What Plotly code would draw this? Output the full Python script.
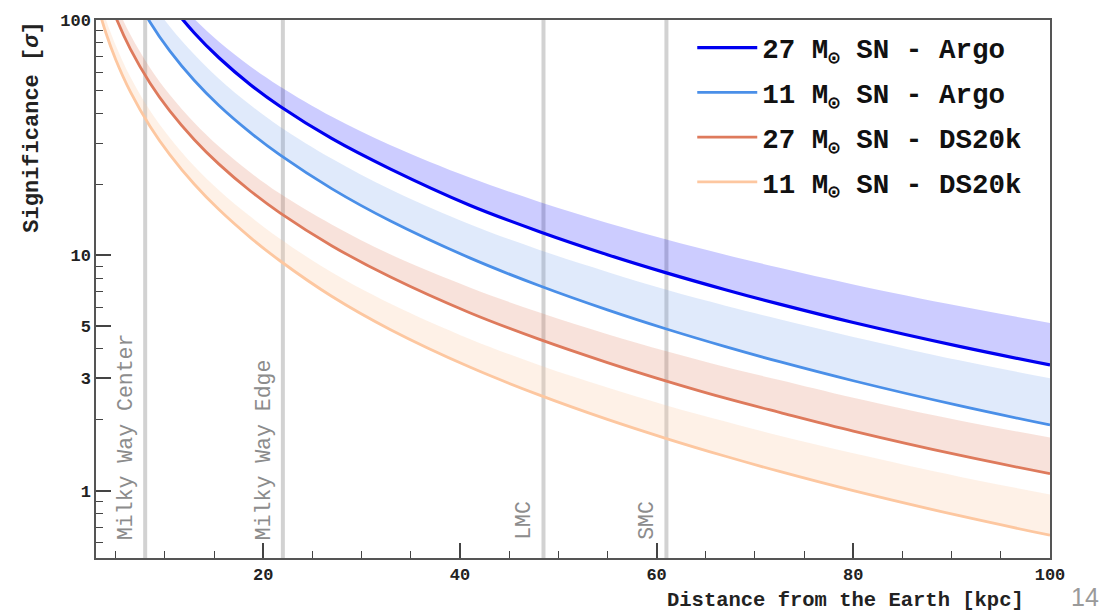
import plotly.graph_objects as go

# ---------------- data ----------------
distance = [3, 4, 5, 6.5, 8.5, 10.5, 13, 15.5, 18.7, 21.7, 27, 32.9, 41, 48.1,
            55, 61, 67, 72.5, 80, 90.9, 100]

argo27_low = [580, 408, 309, 221, 156, 117.8, 88.1, 69.1, 53.1, 43.0, 31.3, 23.3,
              16.32, 12.60, 10.06, 8.42, 7.14, 6.20, 5.18, 4.09, 3.42]
argo27_high = [609, 428, 328, 236, 168.5, 129.6, 101, 80.9, 63.5, 52.2, 38.8, 29.43,
               21.39, 16.86, 13.73, 11.68, 10.06, 8.85, 7.52, 6.07, 5.16]

argo11_low = [364, 256, 194, 139, 97.9, 73.9, 55.3, 43.3, 33.2, 26.7, 19.16, 14.02,
              9.75, 7.42, 5.86, 4.86, 4.09, 3.53, 2.93, 2.29, 1.90]
argo11_high = [444, 315, 240.6, 173, 122.4, 93.9, 71.3, 56.3, 43.5, 35.2, 25.7, 19.07,
               13.55, 10.54, 8.50, 7.14, 6.11, 5.35, 4.50, 3.57, 3.00]

ds27_low = [187, 134, 103, 75.2, 53.9, 41.1, 31.0, 24.4, 18.76, 15.14, 10.96, 8.10,
            5.70, 4.39, 3.50, 2.92, 2.47, 2.15, 1.79, 1.41, 1.18]
ds27_high = [209, 151, 117.4, 86.5, 62.5, 48.1, 36.6, 29.0, 22.5, 18.3, 13.5, 10.1,
             7.30, 5.71, 4.62, 3.91, 3.35, 2.95, 2.48, 1.98, 1.68]

ds11_low = [122, 88.3, 68.0, 49.5, 35.3, 26.8, 20.04, 15.64, 11.89, 9.48, 6.68, 4.84,
            3.35, 2.545, 2.007, 1.664, 1.399, 1.206, 0.999, 0.780, 0.646]
ds11_high = [137.9, 100.7, 78.2, 57.2, 41.1, 31.6, 23.9, 18.9, 14.6, 11.76, 8.45, 6.24,
             4.41, 3.41, 2.74, 2.30, 1.966, 1.71, 1.44, 1.143, 0.963]

series_names = ["27 M<sub>⊙</sub> SN - Argo", "11 M<sub>⊙</sub> SN - Argo",
                "27 M<sub>⊙</sub> SN - DS20k", "11 M<sub>⊙</sub> SN - DS20k"]

landmark_names = ["Milky Way Center", "Milky Way Edge", "LMC", "SMC"]
landmark_dist = [8.0, 22.0, 48.5, 61.0]

x_ticks = [20, 40, 60, 80, 100]
x_minor = [5, 10, 15, 25, 30, 35, 45, 50, 55, 65, 70, 75, 85, 90, 95]
y_ticks = [1, 3, 5, 10, 100]
y_tick_text = ["1", "3", "5", "10", "100"]
y_minor = [0.6, 0.7, 0.8, 0.9, 2, 4, 6, 7, 8, 9, 20, 30, 40, 50, 60, 70, 80, 90]

# ---------------- styles ----------------
MONO = "Liberation Mono, Courier New, DejaVu Sans Mono, monospace"
line_colors = ["#0000F0", "#4A8FE8", "#DE7A5C", "#FDC7A0"]
fill_colors = ["rgba(0,0,255,0.20)", "rgba(100,150,235,0.20)",
               "rgba(222,122,92,0.22)", "rgba(253,199,160,0.25)"]
line_widths = [3.2, 2.8, 2.8, 2.8]

lows = [argo27_low, argo11_low, ds27_low, ds11_low]
highs = [argo27_high, argo11_high, ds27_high, ds11_high]

fig = go.Figure()

for i in range(4):
    # upper edge of the band (invisible)
    fig.add_trace(go.Scatter(
        x=distance, y=highs[i], mode="lines",
        line=dict(width=0, shape="spline", color=line_colors[i]),
        hoverinfo="skip", showlegend=False))
    # band fill down to the lower edge
    fig.add_trace(go.Scatter(
        x=distance, y=lows[i], mode="lines",
        line=dict(width=0, shape="spline", color=line_colors[i]),
        fill="tonexty", fillcolor=fill_colors[i],
        hoverinfo="skip", showlegend=False))
    # the visible curve (lower edge)
    fig.add_trace(go.Scatter(
        x=distance, y=lows[i], mode="lines", name=series_names[i],
        line=dict(width=line_widths[i], shape="spline", color=line_colors[i]),
        legendgroup=f"g{i}"))

# landmark vertical lines
for d in landmark_dist:
    fig.add_shape(type="line", xref="x", yref="paper", x0=d, x1=d, y0=0, y1=1,
                  line=dict(color="#d2d2d2", width=4), layer="below")

annotations = []
for name, d in zip(landmark_names, landmark_dist):
    annotations.append(dict(
        x=d, xref="x", y=0.03, yref="paper", text=name, showarrow=False,
        textangle=-90, xanchor="center", yanchor="bottom", xshift=-19,
        font=dict(family=MONO, size=21.5, color="#8c8c8c")))

annotations.append(dict(
    x=-0.066, xref="paper", y=0.800, yref="paper",
    text="Significance [<i>σ</i>]", showarrow=False, textangle=-90,
    xanchor="center", yanchor="middle",
    font=dict(family=MONO, size=22, color="#222", weight="bold")))

annotations.append(dict(
    x=0.975, xref="paper", y=-0.079, yref="paper",
    text="Distance from the Earth [kpc]", showarrow=False,
    xanchor="right", yanchor="middle",
    font=dict(family=MONO, size=20.5, color="#222", weight="bold")))

annotations.append(dict(
    x=1.037, xref="paper", y=-0.072, yref="paper", text="14", showarrow=False,
    xanchor="center", yanchor="middle",
    font=dict(family="Liberation Sans, Arial, sans-serif", size=25, color="#9a9a9a")))

axis_common = dict(showgrid=False, zeroline=False, showline=True, linecolor="#555",
                   linewidth=1.5, mirror=True, ticks="inside", ticklen=15,
                   tickwidth=1.5, tickcolor="#444",
                   tickfont=dict(family=MONO, size=17, color="#222", weight="bold"))

fig.update_layout(
    width=1109, height=614,
    margin=dict(l=96, r=59, t=15, b=56),
    paper_bgcolor="white", plot_bgcolor="white",
    xaxis=dict(range=[3, 100], tickmode="array", tickvals=x_ticks,
               minor=dict(tickmode="array", tickvals=x_minor, ticks="inside",
                          ticklen=7, tickwidth=1.2, tickcolor="#444", showgrid=False),
               **axis_common),
    yaxis=dict(type="log", range=[-0.2865, 2], tickmode="array", tickvals=y_ticks,
               ticktext=y_tick_text,
               minor=dict(tickmode="array", tickvals=y_minor, ticks="inside",
                          ticklen=7, tickwidth=1.2, tickcolor="#444", showgrid=False),
               **axis_common),
    legend=dict(x=0.625, y=0.994, xanchor="left", yanchor="top",
                bgcolor="rgba(255,255,255,0)", traceorder="grouped",
                tracegroupgap=6, itemwidth=60,
                font=dict(family=MONO, size=27.5, color="#111", weight="bold")),
    annotations=annotations,
    showlegend=True,
)

fig.write_html("out.html", config={"displayModeBar": False},
               post_script="document.body.style.margin='0';document.body.style.padding='0';")
